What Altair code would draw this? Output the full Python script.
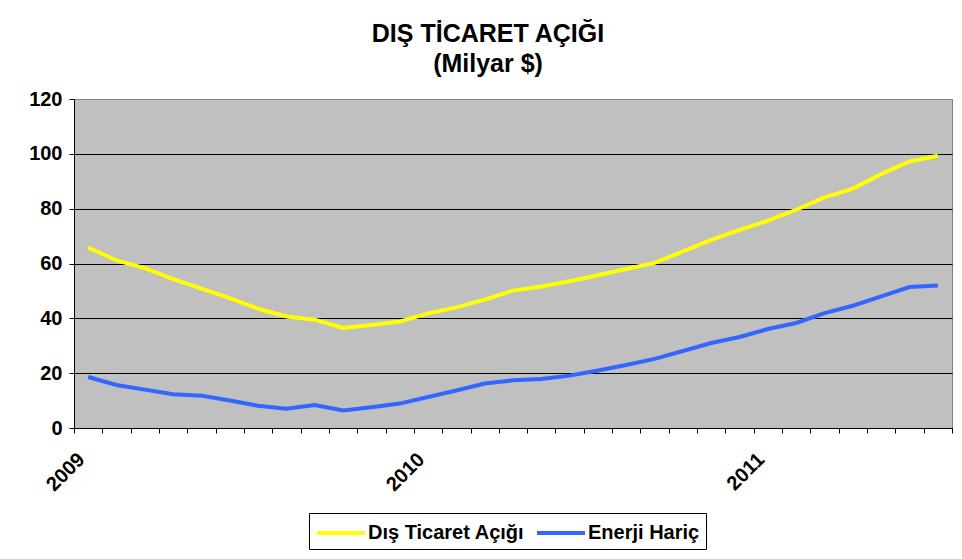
import altair as alt
import pandas as pd

months = [f"{y}-{m:02d}" for y in (2009, 2010, 2011) for m in range(1, 13)][:31]
dis_ticaret = [65.9, 61.1, 58.3, 54.3, 50.8, 47.4, 43.5, 40.7, 39.5, 36.5, 37.6,
               38.8, 41.8, 44.0, 46.8, 50.1, 51.6, 53.5, 55.7, 58.0, 60.2, 64.4,
               68.6, 72.3, 75.6, 79.6, 84.1, 87.3, 92.6, 97.2, 99.3]
enerji_haric = [18.6, 15.7, 14.0, 12.3, 11.8, 10.0, 8.1, 7.0, 8.4, 6.4, 7.6,
                8.9, 11.3, 13.7, 16.2, 17.4, 17.9, 19.1, 21.0, 23.0, 25.2, 28.1,
                31.0, 33.2, 36.1, 38.3, 41.9, 44.6, 48.0, 51.4, 52.0]
series_names = ["Dış Ticaret Açığı", "Enerji Hariç"]
series_colors = ["#FFFF00", "#3366FF"]
year_labels = ["2009", "2010", "2011"]
y_ticks = [0, 20, 40, 60, 80, 100, 120]

rows = []
for name, vals in zip(series_names, [dis_ticaret, enerji_haric]):
    for i, (m, v) in enumerate(zip(months, vals)):
        rows.append({"idx": i, "month": m, "value": v, "series": name})
df = pd.DataFrame(rows)

n = len(months)
tick_vals = [i - 0.5 for i in range(n + 1)]
label_pos = {months.index(f"{y}-01") - 0.5: y for y in year_labels}
label_expr = " : ".join(f"datum.value == {k} ? '{v}'" for k, v in label_pos.items()) + " : ''"

FONT = "Liberation Sans"

chart = alt.Chart(df).mark_line(strokeWidth=4).encode(
    x=alt.X("idx:Q", scale=alt.Scale(domain=[-0.5, n - 0.5], nice=False, zero=False),
            axis=alt.Axis(values=tick_vals, labelExpr=label_expr, title=None, grid=False,
                          labelAngle=-45, labelAlign="right", labelBaseline="top",
                          labelFontSize=20, labelFontWeight="bold", labelFont=FONT,
                          labelColor="black", labelPadding=16, tickColor="black",
                          tickSize=5, domainColor="black", labelOverlap=False,
                          labelBound=False, labelFlush=False)),
    y=alt.Y("value:Q", scale=alt.Scale(domain=[0, 120], nice=False),
            axis=alt.Axis(values=y_ticks, title=None, labelFontSize=20,
                          labelFontWeight="bold", labelFont=FONT, labelColor="black",
                          labelPadding=7, tickColor="black", tickSize=5,
                          domainColor="black",
                          gridColor={"condition": {"test": "datum.value === 120", "value": "#808080"}, "value": "black"},
                          gridOpacity=1, gridWidth=1)),
    color=alt.Color("series:N", scale=alt.Scale(domain=series_names, range=series_colors),
                    legend=alt.Legend(title=None, orient="none", legendX=235, legendY=414,
                                      direction="horizontal", strokeColor="black",
                                      padding=6, labelFontSize=20, labelFontWeight="bold",
                                      labelFont=FONT, labelColor="black",
                                      symbolType="M-1,0L3,0", symbolStrokeWidth=4,
                                      symbolSize=576, labelOffset=25, columnPadding=4,
                                      fillColor="white")),
    detail="series:N",
).properties(
    width=878,
    height=329,
    background="white",
    title=alt.TitleParams(text=["DIŞ TİCARET AÇIĞI", "(Milyar $)"], fontSize=25,
                          font=FONT, fontWeight="bold", color="black", anchor="middle",
                          dx=-25, offset=12, lineHeight=30),
    autosize=alt.AutoSizeParams(type="none"),
    padding={"left": 66, "top": 91, "right": 2, "bottom": 123},
).configure_view(
    fill="#C0C0C0", stroke="#808080", strokeWidth=1
)

chart.save("out.html", embed_options={"renderer": "svg", "actions": False})
